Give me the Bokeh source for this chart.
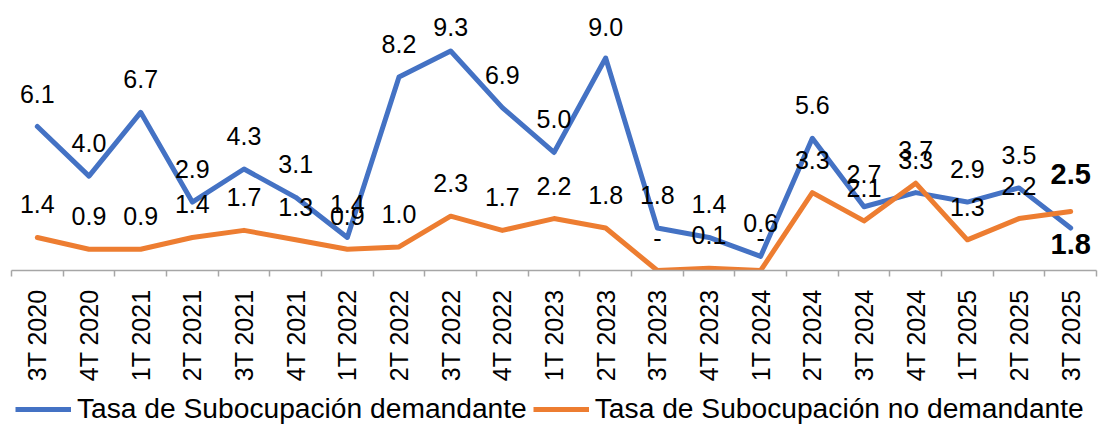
import math
from bokeh.plotting import figure
from bokeh.layouts import column
from bokeh.models import (Range1d, FixedTicker, Legend, LegendItem)
from bokeh.core.properties import value
from bokeh.embed import file_html
from bokeh.resources import INLINE

categories = ["3T 2020", "4T 2020", "1T 2021", "2T 2021", "3T 2021", "4T 2021",
              "1T 2022", "2T 2022", "3T 2022", "4T 2022", "1T 2023", "2T 2023",
              "3T 2023", "4T 2023", "1T 2024", "2T 2024", "3T 2024", "4T 2024",
              "1T 2025", "2T 2025", "3T 2025"]
demandante = [6.1, 4.0, 6.7, 2.9, 4.3, 3.1, 1.4, 8.2, 9.3, 6.9, 5.0, 9.0,
              1.8, 1.4, 0.6, 5.6, 2.7, 3.3, 2.9, 3.5, 1.8]
no_demandante = [1.4, 0.9, 0.9, 1.4, 1.7, 1.3, 0.9, 1.0, 2.3, 1.7, 2.2, 1.8,
                 0.0, 0.1, 0.0, 3.3, 2.1, 3.7, 1.3, 2.2, 2.5]
series_names = ["Tasa de Subocupación demandante", "Tasa de Subocupación no demandante"]

BLUE = "#4472C4"
ORANGE = "#ED7D31"
FONT = "Liberation Sans"

W = 1115
H1, H2 = 385, 40
YMAX = 11.1
FRAME_H = 262
PPU = FRAME_H / YMAX

p = figure(width=W, height=H1, output_backend="svg", toolbar_location=None,
           x_range=Range1d(-0.5, len(categories) - 0.5), y_range=Range1d(0, YMAX),
           min_border_left=11, min_border_right=19, min_border_top=8,
           min_border_bottom=H1 - 8 - FRAME_H)
p.outline_line_color = None
p.xgrid.visible = False
p.ygrid.visible = False
p.yaxis.visible = False
p.background_fill_color = "white"
p.border_fill_color = "white"

xs = list(range(len(categories)))
p.line(xs, demandante, line_color=BLUE, line_width=5, line_join="round", line_cap="round")
p.line(xs, no_demandante, line_color=ORANGE, line_width=5, line_join="round", line_cap="round")

ax = p.xaxis[0]
ax.ticker = FixedTicker(ticks=xs, minor_ticks=[i - 0.5 for i in range(len(categories) + 1)])
ax.major_label_overrides = {i: c for i, c in enumerate(categories)}
ax.major_label_orientation = math.pi / 2
ax.major_label_text_font = FONT
ax.major_label_text_font_size = "25px"
ax.major_label_text_color = "#000000"
ax.major_label_standoff = 13
ax.major_tick_out = 0
ax.major_tick_in = 0
ax.minor_tick_out = 6
ax.minor_tick_in = 0
ax.minor_tick_line_color = "#A6A6A6"
ax.minor_tick_line_width = 1.5
ax.axis_line_color = "#A6A6A6"
ax.axis_line_width = 1.5

def fmt(v):
    return "-" if v == 0 else f"{v:.1f}"

top_lab = YMAX - 18 / PPU
off = 33 / PPU
n = len(categories) - 1
for vals in (demandante, no_demandante):
    lx = xs[:n]
    ly = [min(v + off, top_lab) for v in vals[:n]]
    lt = [fmt(v) for v in vals[:n]]
    p.text(x=lx, y=ly, text=lt, text_align="center", text_baseline="middle",
           text_font=value(FONT), text_font_size="25px", text_color="#000000")

# last-quarter emphasized labels
p.text(x=[xs[n]], y=[no_demandante[n] + 37 / PPU], text=[fmt(no_demandante[n])],
       text_align="center", text_baseline="middle", text_font=value(FONT),
       text_font_size="29px", text_font_style="bold", text_color="#000000")
p.text(x=[xs[n]], y=[demandante[n] - 16 / PPU], text=[fmt(demandante[n])],
       text_align="center", text_baseline="middle", text_font=value(FONT),
       text_font_size="29px", text_font_style="bold", text_color="#000000")

# legend strip (its own series lines sit outside the visible range)
q = figure(width=W, height=H2, output_backend="svg", toolbar_location=None,
           x_range=Range1d(100, 101), y_range=Range1d(100, 101),
           min_border_left=0, min_border_right=0, min_border_top=0, min_border_bottom=0)
q.axis.visible = False
q.grid.visible = False
q.outline_line_color = None
q.background_fill_color = "white"
q.border_fill_color = "white"
l1 = q.line(xs, demandante, line_color=BLUE, line_width=5)
l2 = q.line(xs, no_demandante, line_color=ORANGE, line_width=5)

legend = Legend(items=[LegendItem(label=series_names[0], renderers=[l1]),
                       LegendItem(label=series_names[1], renderers=[l2])],
                orientation="horizontal", location=(4, 0),
                label_text_font=FONT, label_text_font_size="28.2px",
                label_text_color="#000000", glyph_width=56, glyph_height=20,
                label_standoff=6, spacing=6, padding=0, margin=0,
                border_line_color=None, background_fill_alpha=0)
q.add_layout(legend, "center")

layout = column(p, q, spacing=0)
open("out.html", "w").write(file_html(layout, INLINE))
